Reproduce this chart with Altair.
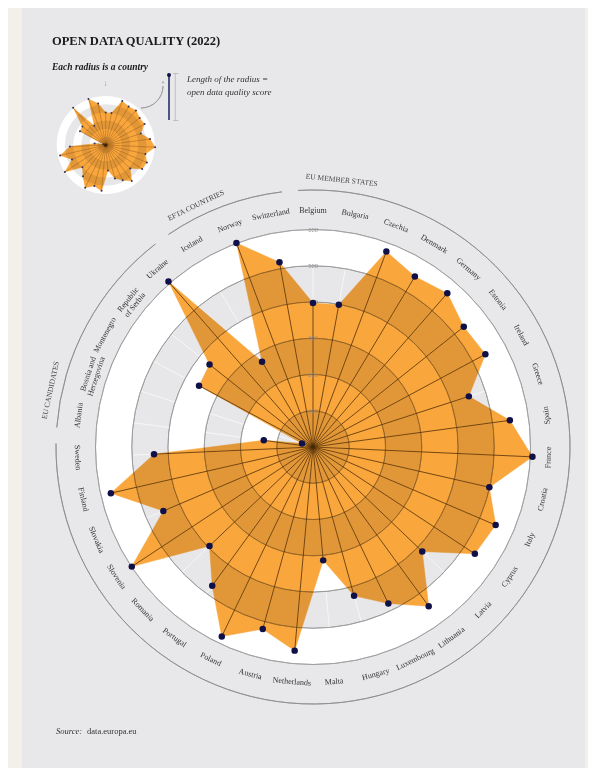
import altair as alt
import numpy as np
import pandas as pd

# ---------------- data ----------------
countries = [
    "Belgium", "Bulgaria", "Czechia", "Denmark", "Germany", "Estonia", "Ireland",
    "Greece", "Spain", "France", "Croatia", "Italy", "Cyprus", "Latvia",
    "Lithuania", "Luxembourg", "Hungary", "Malta", "Netherlands", "Austria",
    "Poland", "Portugal", "Romania", "Slovenia", "Slovakia", "Finland", "Sweden",
    "Albania", "Bosnia and\nHerzegovina", "Montenegro", "Republic\nof Serbia", "Ukraine",
    "Iceland", "Norway", "Switzerland",
]
scores = [
    397, 399, 576, 548, 563, 532, 540,
    452, 548, 606, 499, 548, 535, 417,
    543, 479, 426, 314, 564, 521,
    580, 473, 395, 599, 449, 572, 439,
    137, 32, 357, 365, 606,
    274, 601, 518,
]
group_names = ["EU MEMBER STATES", "EU CANDIDATES", "EFTA COUNTRIES"]
group_sizes = [27, 5, 3]
tick_values = [100, 200, 300, 400, 500, 600]
band_edges = [0, 100, 200, 300, 400, 500, 600]

title_text = "OPEN DATA QUALITY (2022)"
note_left = "Each radius is a country"
note_right_1 = "Length of the radius ="
note_right_2 = "open data quality score"
source_label = "Source:"
source_text = "data.europa.eu"

# ---------------- geometry / style ----------------
SERIF = "Liberation Serif"
W, H = 580, 760
CX, CY = 305.0, 439.0          # polar origin in chart pixels
K = 217.5 / 600.0              # pixels per score unit
N = len(countries)
STEP = 360.0 / N
S_IN = 49.0 / 217.5            # inset scale factor
IX0 = (97.7 - CX) / K          # inset centre in score units
IY0 = (CY - 137.0) / K
LABEL_R = 651
GROUP_R = 709
GROUP_LABEL_R = 740

ORANGE = "#f9a63c"
GRAY_BAND = "#e7e7e9"
CARD = "#e8e8ea"
CREAM = "#f3f0e9"
NAVY = "#101048"
BROWN = "#4a2a05"
TEXT = "#333333"

xs = alt.Scale(domain=[-CX / K, (W - CX) / K], range=[0, W], nice=False, zero=False)
ys = alt.Scale(domain=[-(H - CY) / K, CY / K], range=[H, 0], nice=False, zero=False)
rs = alt.Scale(type="linear", domain=[0, 600], range=[0, 217.5], zero=True, nice=False)


def X(f):
    return alt.X(f, scale=xs, axis=None)


def Y(f):
    return alt.Y(f, scale=ys, axis=None)


df = pd.DataFrame({"country": countries, "score": scores, "idx": list(range(N))})

base = alt.Chart(df).transform_calculate(
    deg=f"datum.idx*{STEP}",
    ang="datum.deg*PI/180",
    x="datum.score*sin(datum.ang)",
    y="datum.score*cos(datum.ang)",
    x600="600*sin(datum.ang)",
    y600="600*cos(datum.ang)",
    lx=f"{LABEL_R}*sin(datum.ang)",
    ly=f"{LABEL_R}*cos(datum.ang)",
    rot="(datum.deg < 77 || datum.deg >= 272) ? datum.deg : (datum.deg + 180) % 360",
    ix=f"{IX0} + {S_IN}*datum.x",
    iy=f"{IY0} + {S_IN}*datum.y",
)

# card background
card = alt.Chart(pd.DataFrame({"a": [0]})).mark_rect(color=CARD).encode(
    x=alt.value(14), x2=alt.value(577), y=alt.value(0), y2=alt.value(762)
)

# ring bands
bands_df = pd.DataFrame({"r0": band_edges[:-1], "r1": band_edges[1:], "i": list(range(len(band_edges) - 1))})
band_color = alt.Color("par:N", scale=alt.Scale(domain=["0", "1"], range=[GRAY_BAND, "#ffffff"]), legend=None)
bands = alt.Chart(bands_df).transform_calculate(
    par="'' + (datum.i % 2)"
).mark_arc(theta=0, theta2=2 * np.pi).encode(
    x=alt.X(datum=0, scale=xs, axis=None),
    y=alt.Y(datum=0, scale=ys, axis=None),
    radius=alt.Radius("r1:Q", scale=rs),
    radius2="r0:Q",
    color=band_color,
)

faint_spokes = base.mark_rule(color="#ffffff", strokeWidth=0.8, opacity=0.8).encode(
    x=X("x600:Q"), y=Y("y600:Q"), x2=alt.X2(datum=0), y2=alt.Y2(datum=0)
)

polygon = base.mark_line(
    interpolate="linear-closed", fill=ORANGE, stroke=ORANGE, strokeWidth=0.5, blend="multiply"
).encode(x=X("x:Q"), y=Y("y:Q"), order=alt.Order("idx:Q"))

ticks_df = pd.DataFrame({"r": tick_values})
grid = alt.Chart(ticks_df).mark_arc(
    theta=0, theta2=2 * np.pi, fill="#ffffff", fillOpacity=0, stroke="#a2a2a2", strokeWidth=0.8, blend="multiply"
).encode(
    x=alt.X(datum=0, scale=xs, axis=None),
    y=alt.Y(datum=0, scale=ys, axis=None),
    radius=alt.Radius("r:Q", scale=rs),
    radius2="r:Q",
)

spokes = base.mark_rule(color=BROWN, strokeWidth=0.9, opacity=0.85).encode(
    x=X("x:Q"), y=Y("y:Q"), x2=alt.X2(datum=0), y2=alt.Y2(datum=0)
)

tick_labels = alt.Chart(ticks_df).transform_calculate(
    z="0", lab="'' + datum.r"
).mark_text(font=SERIF, fontSize=6.5, color="#8c8c8c", baseline="middle").encode(
    x=X("z:Q"), y=Y("r:Q"), text="lab:N"
)

dots = base.mark_circle(size=42, color=NAVY, opacity=1).encode(x=X("x:Q"), y=Y("y:Q"))

labels = base.mark_text(
    font=SERIF, fontSize=8, color=TEXT, lineBreak="\n", align="center", baseline="middle", lineHeight=8.5
).encode(x=X("lx:Q"), y=Y("ly:Q"), text="country:N", angle=alt.Angle("rot:Q", scale=None))

# group arcs and labels
starts = np.cumsum([0] + group_sizes[:-1])
g_t0, g_t1, g_deg = [], [], []
for name, st, sz in zip(group_names, starts, group_sizes):
    a0 = st * STEP - STEP / 2 + 1.8
    a1 = (st + sz - 1) * STEP + STEP / 2 - 1.8
    g_t0.append(np.radians(a0))
    g_t1.append(np.radians(a1))
    half = len(name) * 2.6 / (GROUP_LABEL_R * K) * 180 / np.pi
    g_deg.append(a0 + 0.6 + half)
groups_df = pd.DataFrame({"name": group_names, "t0": g_t0, "t1": g_t1, "gdeg": g_deg})

group_arcs = alt.Chart(groups_df).transform_calculate(
    r=f"{GROUP_R}"
).mark_arc(fill="#ffffff", fillOpacity=0, stroke="#8c8c8c", strokeWidth=0.8).encode(
    x=alt.X(datum=0, scale=xs, axis=None),
    y=alt.Y(datum=0, scale=ys, axis=None),
    theta=alt.Theta("t0:Q", scale=None),
    theta2="t1:Q",
    radius=alt.Radius("r:Q", scale=rs),
    radius2="r:Q",
)

group_labels = alt.Chart(groups_df).transform_calculate(
    gx=f"{GROUP_LABEL_R}*sin(datum.gdeg*PI/180)",
    gy=f"{GROUP_LABEL_R}*cos(datum.gdeg*PI/180)",
).mark_text(font=SERIF, fontSize=7.5, color="#444444", align="center", baseline="middle").encode(
    x=X("gx:Q"), y=Y("gy:Q"), text="name:N", angle=alt.Angle("gdeg:Q", scale=None)
)

# ---------------- inset ----------------
in_bands = alt.Chart(bands_df).transform_calculate(
    par="'' + (datum.i % 2)",
    a0=f"datum.r0*{S_IN}",
    a1=f"datum.r1*{S_IN}",
).mark_arc(theta=0, theta2=2 * np.pi).encode(
    x=alt.X(datum=IX0, scale=xs, axis=None),
    y=alt.Y(datum=IY0, scale=ys, axis=None),
    radius=alt.Radius("a1:Q", scale=rs),
    radius2="a0:Q",
    color=alt.Color("par:N", scale=alt.Scale(domain=["0", "1"], range=["#dde1e8", "#ffffff"]), legend=None),
)
in_polygon = base.mark_line(
    interpolate="linear-closed", fill=ORANGE, stroke=ORANGE, strokeWidth=0.3, blend="multiply"
).encode(x=X("ix:Q"), y=Y("iy:Q"), order=alt.Order("idx:Q"))
in_spokes = base.mark_rule(color="#6b3d08", strokeWidth=0.4, opacity=0.8).encode(
    x=X("ix:Q"), y=Y("iy:Q"), x2=alt.X2(datum=IX0), y2=alt.Y2(datum=IY0)
)
in_dots = base.mark_circle(size=4, color="#333355", opacity=1).encode(x=X("ix:Q"), y=Y("iy:Q"))
in_center = alt.Chart(pd.DataFrame({"a": [0]})).mark_circle(size=14, color="#3a2000", opacity=0.9).encode(
    x=alt.X(datum=IX0, scale=xs, axis=None), y=alt.Y(datum=IY0, scale=ys, axis=None)
)

# ---------------- texts & annotations ----------------
one = pd.DataFrame({"a": [0]})


def txt(s, x, y, size, weight="normal", style="normal", color=TEXT, align="left"):
    return alt.Chart(one).mark_text(
        text=s, font=SERIF, fontSize=size, fontWeight=weight, fontStyle=style,
        color=color, align=align, baseline="middle",
    ).encode(x=alt.value(x), y=alt.value(y))


title = txt(title_text, 44, 33, 12.5, weight="bold", color="#1a1a1a")
n_left = txt(note_left, 44, 59, 9.5, weight="bold", style="italic", color="#1a1a1a")
n_r1 = txt(note_right_1, 179, 71, 9, style="italic")
n_r2 = txt(note_right_2, 179, 84, 9, style="italic")
src1 = txt(source_label, 48, 723, 8.5, style="italic")
src2 = txt(source_text, 79, 723, 8.5)
down_arrow = txt("\u2193", 97.5, 76, 8, color="#999999", align="center")

curve = alt.Chart(one).mark_arc(
    radius=22, radius2=22, theta=np.pi / 2, theta2=np.pi, fill="#ffffff", fillOpacity=0,
    stroke="#9a9a9a", strokeWidth=0.8,
).encode(x=alt.value(133), y=alt.value(78))
curve_head = alt.Chart(one).mark_point(shape="triangle-up", filled=True, size=10, color="#9a9a9a").encode(
    x=alt.value(155), y=alt.value(74)
)
navy_line = alt.Chart(one).mark_rule(color="#2b2b6b", strokeWidth=1.6).encode(
    x=alt.value(161), y=alt.value(67), y2=alt.value(112)
)
navy_dot = alt.Chart(one).mark_circle(size=16, color=NAVY, opacity=1).encode(x=alt.value(161), y=alt.value(67))
bracket = alt.Chart(one).mark_rule(color="#b0b0b0", strokeWidth=0.7).encode(
    x=alt.value(167.3), y=alt.value(65.5), y2=alt.value(112.5)
)
bracket_t = alt.Chart(one).mark_rule(color="#b0b0b0", strokeWidth=0.7).encode(
    x=alt.value(165), x2=alt.value(170.5), y=alt.value(65.5)
)
bracket_b = alt.Chart(one).mark_rule(color="#b0b0b0", strokeWidth=0.7).encode(
    x=alt.value(165), x2=alt.value(170.5), y=alt.value(112.5)
)

chart = alt.layer(
    card, bands, faint_spokes, polygon, grid, spokes, tick_labels, dots, labels,
    group_arcs, group_labels,
    in_bands, in_polygon, in_spokes, in_dots, in_center,
    title, n_left, n_r1, n_r2, src1, src2, down_arrow, curve, curve_head,
    navy_line, navy_dot, bracket, bracket_t, bracket_b,
).properties(
    width=W, height=H, padding=0, background=CREAM,
    autosize=alt.AutoSizeParams(type="none"),
).configure_view(stroke=None)

chart.save("out.html", embed_options={"renderer": "svg", "actions": False})
